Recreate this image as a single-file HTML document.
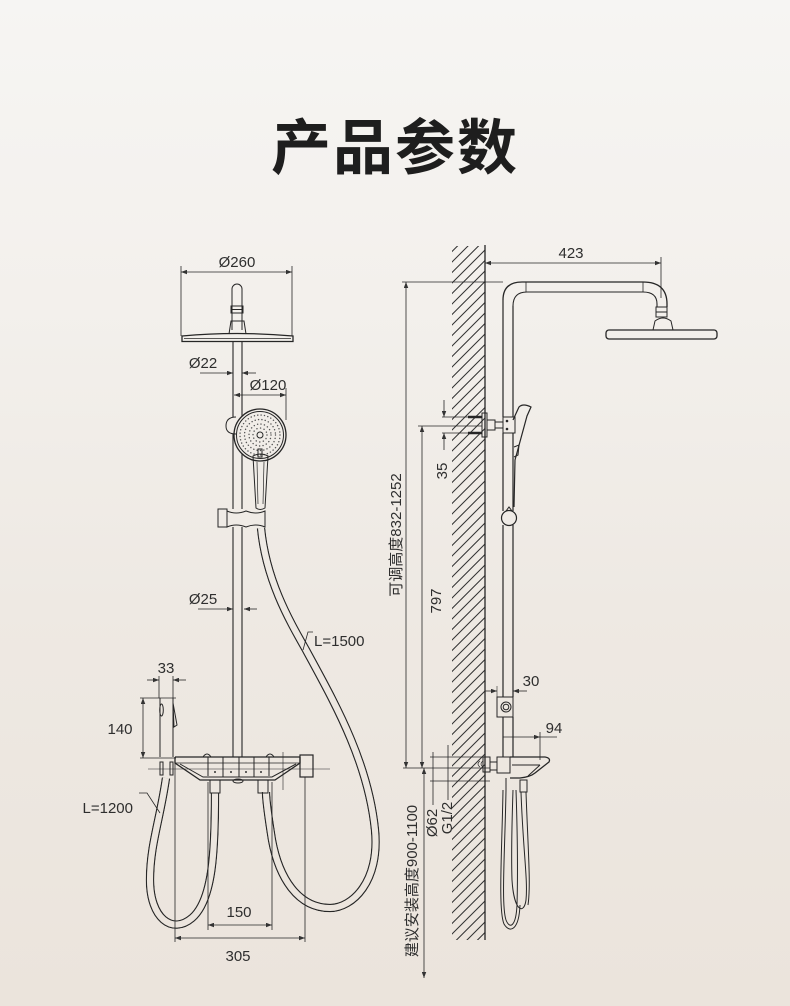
<!DOCTYPE html>
<html><head><meta charset="utf-8">
<style>
html,body{margin:0;padding:0;}
body{width:790px;height:1006px;overflow:hidden;position:relative;
background:linear-gradient(to bottom,#f6f5f3 0%,#f3f0ec 30%,#eee9e3 60%,#ebe4dc 100%);}
.title{position:absolute;left:0;top:117px;width:790px;text-align:center;font-family:"Liberation Sans","Noto Sans CJK SC",sans-serif;font-weight:bold;font-size:60px;line-height:64px;color:#1e1e1e;letter-spacing:2px;}
svg{position:absolute;left:0;top:0;}
svg text{font-family:"Liberation Sans","Noto Sans CJK SC",sans-serif;font-size:15px;fill:#2e2e2e;}
</style></head><body>
<div class="title">产品参数</div>
<svg width="790" height="1006" viewBox="0 0 790 1006">
<defs>
<marker id="ar" viewBox="0 0 8 6" refX="8" refY="3" markerWidth="7" markerHeight="4.5" orient="auto-start-reverse" markerUnits="userSpaceOnUse"><path d="M0,0L8,3L0,6Z" fill="#333"/></marker>
<pattern id="hatch" patternUnits="userSpaceOnUse" width="10.5" height="10.5"><path d="M-1,11.5 L11.5,-1 M-1,1 L1,-1 M9.5,11.5 L11.5,9.5" stroke="#333" stroke-width="1.05"/></pattern>
<mask id="hm" maskUnits="userSpaceOnUse" x="0" y="0" width="790" height="1006">
<g fill="none" stroke="white" stroke-width="8.5">
<path d="M261,528 C266,580 289,620 306,650 C333,700 368,760 375,830 C380,882 352,908 330,908 C298,908 279,878 272,840 C268,815 266,800 266,792"/>
<path d="M215,793 C215,850 213,900 192,918 C172,935 150,918 150,880 C150,845 160,820 166,778"/>
</g>
<g fill="none" stroke="black" stroke-width="6.1">
<path d="M261,528 C266,580 289,620 306,650 C333,700 368,760 375,830 C380,882 352,908 330,908 C298,908 279,878 272,840 C268,815 266,800 266,792"/>
<path d="M215,793 C215,850 213,900 192,918 C172,935 150,918 150,880 C150,845 160,820 166,778"/>
</g>
</mask>
</defs>

<!-- ================= LEFT DIAGRAM ================= -->
<g fill="none" stroke="#262626" stroke-width="1">
<!-- Ø260 dim -->
<line x1="181" y1="266" x2="181" y2="336" stroke-width="0.8"/>
<line x1="292" y1="266" x2="292" y2="336" stroke-width="0.8"/>
<line x1="181" y1="272" x2="292" y2="272" stroke-width="0.8" marker-start="url(#ar)" marker-end="url(#ar)"/>
<!-- shower head front -->
<path d="M232,330 V289 A5,5 0 0 1 242,289 V330"/>
<rect x="231" y="306" width="12" height="7"/>
<line x1="231" y1="309.5" x2="243" y2="309.5"/>
<path d="M229,334 L231,321 H244 L246,334"/>
<path d="M182,336 Q237,331 293,336 V341.5 H182 Z" stroke-width="1.3"/>
<line x1="184" y1="338.5" x2="291" y2="338.5" stroke-width="0.7"/>
<!-- column -->
<path d="M233,341.5 V417 M233,434 V509 M233,527 V757" stroke-width="1.1"/>
<path d="M242,341.5 V416 M242,454 V509 M242,527 V757" stroke-width="1.1"/>
<!-- Ø22 -->
<line x1="200" y1="373" x2="233" y2="373" stroke-width="0.8" marker-end="url(#ar)"/>
<line x1="256" y1="373" x2="242" y2="373" stroke-width="0.8" marker-end="url(#ar)"/>
<!-- Ø120 -->
<line x1="234" y1="395" x2="286" y2="395" stroke-width="0.8" marker-start="url(#ar)" marker-end="url(#ar)"/>
<line x1="286" y1="388" x2="286" y2="420" stroke-width="0.8"/>
<!-- hand shower front -->
<path d="M236,417 Q226,417 226,426 Q226,434 236,434"/>
<circle cx="260" cy="435" r="26" stroke-width="1.3"/>
<circle cx="260" cy="435" r="23.5"/>
<g stroke="#555" stroke-linecap="round" stroke-width="1.4">
<circle cx="260" cy="435" r="20" stroke-dasharray="0.1 3.3"/>
<circle cx="260" cy="435" r="15.5" stroke-dasharray="0.1 3.3"/>
<circle cx="260" cy="435" r="11" stroke-dasharray="0.1 3.4"/>
<circle cx="260" cy="435" r="7" stroke-dasharray="0.1 3.6"/>
</g>
<circle cx="260" cy="435" r="3"/>
<path d="M253,456 Q260,452 268,456 L265,508 Q260,511 256,508 Z"/>
<path d="M257,462 L258,504 M264,462 L263,504" stroke-width="0.7"/>
<rect x="258" y="449" width="4" height="8"/>
<!-- slider -->
<rect x="218" y="509" width="9" height="18"/>
<path d="M227,511 Q236,515 246,511 Q256,515 265,511 V527 Q256,523 246,527 Q236,523 227,527 Z"/>
<!-- Ø25 -->
<line x1="198" y1="609" x2="233" y2="609" stroke-width="0.8" marker-end="url(#ar)"/>
<line x1="257" y1="609" x2="244" y2="609" stroke-width="0.8" marker-end="url(#ar)"/>
<!-- L=1500 leader -->
<path d="M303,650 L308,632 H313" stroke-width="0.8"/>
<!-- 33 dim -->
<line x1="147" y1="680" x2="159" y2="680" stroke-width="0.8" marker-end="url(#ar)"/>
<line x1="186" y1="680" x2="173" y2="680" stroke-width="0.8" marker-end="url(#ar)"/>
<line x1="159" y1="676" x2="159" y2="698" stroke-width="0.8"/>
<line x1="173" y1="676" x2="173" y2="698" stroke-width="0.8"/>
<!-- 140 dim -->
<line x1="143" y1="698" x2="143" y2="758" stroke-width="0.8" marker-start="url(#ar)" marker-end="url(#ar)"/>
<line x1="140" y1="698" x2="176" y2="698" stroke-width="0.8"/>
<line x1="140" y1="758" x2="176" y2="758" stroke-width="0.8"/>
<!-- sprayer -->
<line x1="160" y1="698" x2="160" y2="757"/>
<line x1="173" y1="698" x2="173" y2="757"/>
<ellipse cx="161.5" cy="710" rx="1.8" ry="6"/>
<path d="M173,703 L177,725 L174,727 Z"/>
<rect x="160" y="762" width="3" height="13"/>
<rect x="170" y="762" width="3" height="13"/>
<!-- mixer front -->
<line x1="148" y1="769" x2="330" y2="769" stroke-width="0.6"/>
<line x1="283" y1="752" x2="283" y2="790" stroke-width="0.6"/>
<path d="M175,757 H300 M175,757 V763 L200,780 H275 L300,763 V757" stroke-width="1.3"/>
<path d="M180,764 L203,777 H272 L296,764"/>
<line x1="175" y1="763" x2="300" y2="763" stroke-width="0.8"/>
<rect x="300" y="755" width="13" height="22" stroke-width="1.2"/>
<path d="M208,757 V776 M223,757 V777 M239,757 V777 M254,757 V777 M269,757 V776"/>
<path d="M203,757 Q207,751 211,757 M266,757 Q270,751 274,757"/>
<ellipse cx="238" cy="781" rx="5" ry="2"/>
<rect x="210" y="780" width="10" height="13"/>
<rect x="258" y="780" width="10" height="13"/>
<g fill="#333" stroke="none">
<circle cx="215" cy="772" r="1"/><circle cx="231" cy="772" r="1"/><circle cx="246" cy="772" r="1"/><circle cx="261" cy="772" r="1"/>
</g>
<!-- 150 / 305 dims -->
<line x1="208" y1="782" x2="208" y2="930" stroke-width="0.8"/>
<line x1="272" y1="782" x2="272" y2="930" stroke-width="0.8"/>
<line x1="208" y1="925" x2="272" y2="925" stroke-width="0.8" marker-start="url(#ar)" marker-end="url(#ar)"/>
<line x1="175" y1="760" x2="175" y2="942" stroke-width="0.8"/>
<line x1="305" y1="777" x2="305" y2="942" stroke-width="0.8"/>
<line x1="175" y1="938" x2="305" y2="938" stroke-width="0.8" marker-start="url(#ar)" marker-end="url(#ar)"/>
<!-- L=1200 leader -->
<path d="M139,793 H147 L160,813" stroke-width="0.8"/>
</g>
<!-- hoses -->
<g fill="none" stroke="#262626" stroke-width="8.5" mask="url(#hm)">
<path d="M261,528 C266,580 289,620 306,650 C333,700 368,760 375,830 C380,882 352,908 330,908 C298,908 279,878 272,840 C268,815 266,800 266,792"/>
<path d="M215,793 C215,850 213,900 192,918 C172,935 150,918 150,880 C150,845 160,820 166,778"/>
</g>

<text x="237" y="267" text-anchor="middle">Ø260</text>
<text x="203" y="368" text-anchor="middle">Ø22</text>
<text x="268" y="390" text-anchor="middle">Ø120</text>
<text x="203" y="604" text-anchor="middle">Ø25</text>
<text x="314" y="646">L=1500</text>
<text x="166" y="673" text-anchor="middle">33</text>
<text x="120" y="734" text-anchor="middle">140</text>
<text x="133" y="813" text-anchor="end">L=1200</text>
<text x="239" y="917" text-anchor="middle">150</text>
<text x="238" y="961" text-anchor="middle">305</text>

<!-- ================= RIGHT DIAGRAM ================= -->
<rect x="452" y="246" width="33" height="694" fill="url(#hatch)"/>
<g fill="none" stroke="#262626" stroke-width="1">
<line x1="485" y1="245" x2="485" y2="940" stroke-width="1.3"/>
<!-- 423 -->
<line x1="485" y1="263" x2="661" y2="263" stroke-width="0.8" marker-start="url(#ar)" marker-end="url(#ar)"/>
<line x1="661" y1="257" x2="661" y2="298" stroke-width="0.8"/>
<!-- arm -->
<path d="M503,300 Q503,282 522,282 H643 Q667,282 667,304 V307" stroke-width="1.3"/>
<path d="M513,306 Q513,292 527,292 H643 Q657,292 657,304 V307" stroke-width="1.1"/>
<path d="M526,282 V292 M643,282 V292" stroke-width="0.8"/>
<rect x="656" y="307" width="11" height="10"/>
<line x1="656" y1="312" x2="667" y2="312"/>
<path d="M653,330 L655,321 Q663,315 671,321 L673,330"/>
<rect x="606" y="330" width="111" height="9" rx="3" stroke-width="1.3"/>
<!-- pipe -->
<path d="M503,300 V417 M503,433 V511 M503,525 V697 M503,717 V757" stroke-width="1.2"/>
<path d="M513,306 V417 M513,433 V511 M513,525 V697 M513,717 V757" stroke-width="1.2"/>
<!-- wall mount -->
<rect x="482" y="413" width="5" height="24"/>
<rect x="487" y="420" width="8" height="10"/>
<rect x="495" y="422" width="8" height="6"/>
<rect x="503" y="417" width="12" height="16"/>
<circle cx="507" cy="421" r="0.8" fill="#333"/><circle cx="507" cy="429" r="0.8" fill="#333"/>
<line x1="442" y1="417" x2="482" y2="417" stroke-width="0.8"/>
<line x1="442" y1="433" x2="482" y2="433" stroke-width="0.8"/>
<line x1="418" y1="426" x2="482" y2="426" stroke-width="0.8"/>
<line x1="468" y1="417" x2="482" y2="417" stroke-width="2.5"/>
<line x1="468" y1="433" x2="482" y2="433" stroke-width="2.5"/>
<!-- 35 -->
<line x1="444" y1="400" x2="444" y2="417" stroke-width="0.8" marker-end="url(#ar)"/>
<line x1="444" y1="450" x2="444" y2="433" stroke-width="0.8" marker-end="url(#ar)"/>
<!-- hand shower side -->
<path d="M513,420 L519,407 Q523,403 531,407 L527,416 L515,460 L514,507" stroke-width="1.2"/>
<path d="M514,447 L519,445 L518,455 L514,457"/>
<circle cx="509" cy="518" r="7.5" stroke-width="1.2"/>
<path d="M506,511 L509,507 L512,511"/>
<!-- 832-1252 -->
<line x1="402" y1="282" x2="503" y2="282" stroke-width="0.8"/>
<line x1="406" y1="282" x2="406" y2="768" stroke-width="0.8" marker-start="url(#ar)" marker-end="url(#ar)"/>
<!-- 797 -->
<line x1="422" y1="426" x2="422" y2="768" stroke-width="0.8" marker-start="url(#ar)" marker-end="url(#ar)"/>
<line x1="403" y1="768" x2="490" y2="768" stroke-width="0.8"/>
<!-- 30 holder -->
<rect x="497" y="697" width="16" height="20"/>
<circle cx="506" cy="707" r="5"/>
<circle cx="506" cy="707" r="2.8"/>
<line x1="485" y1="691" x2="497" y2="691" stroke-width="0.8" marker-end="url(#ar)"/>
<line x1="527" y1="691" x2="513" y2="691" stroke-width="0.8" marker-end="url(#ar)"/>
<line x1="497" y1="686" x2="497" y2="697" stroke-width="0.6"/>
<line x1="513" y1="686" x2="513" y2="697" stroke-width="0.6"/>
<!-- 94 -->
<line x1="503" y1="737" x2="540" y2="737" stroke-width="0.8" marker-end="url(#ar)"/>
<line x1="540" y1="737" x2="557" y2="737" stroke-width="0.8"/>
<line x1="540" y1="732" x2="540" y2="760" stroke-width="0.8"/>
<!-- mixer side -->
<rect x="483" y="757" width="7" height="15"/>
<rect x="490" y="762" width="7" height="8"/>
<rect x="497" y="757" width="13" height="16"/>
<path d="M510,757 H545 Q551,758 549,762 L535,773 Q530,777 520,778 H510" stroke-width="1.3"/>
<path d="M512,765 H540 M540,765 L528,776"/>
<path d="M480,761 Q476,764 480,767 M483,761 Q479,764 483,767" stroke-width="0.7"/>
<!-- Ø62 / G1/2 ext -->
<line x1="430" y1="757" x2="483" y2="757" stroke-width="0.8"/>
<line x1="430" y1="781" x2="490" y2="781" stroke-width="0.8"/>
<line x1="433" y1="752" x2="433" y2="805" stroke-width="0.8"/>
<line x1="448" y1="745" x2="448" y2="800" stroke-width="0.8"/>
<!-- 900-1100 -->
<line x1="424" y1="768" x2="424" y2="978" stroke-width="0.8" marker-start="url(#ar)" marker-end="url(#ar)"/>
<!-- hoses right -->
<path d="M506,778 V790 C505,850 501,905 506,920 C510,930 516,926 517,905 C518,870 517,820 516,790"/>
<path d="M503,790 C502,850 498,910 504,924 C510,934 519,930 520,905"/>
<path d="M520,780 H527 V792 H520 Z"/>
<path d="M521,792 C523,850 528,880 526,900 C524,915 514,912 512,880 C511,850 512,820 513,790"/>
<path d="M526,792 C528,850 531,885 528,905"/>
</g>

<text x="571" y="258" text-anchor="middle">423</text>
<text x="531" y="686" text-anchor="middle">30</text>
<text x="554" y="733" text-anchor="middle">94</text>
<text transform="translate(401,535) rotate(-90)" text-anchor="middle">可调高度832-1252</text>
<text transform="translate(441,601) rotate(-90)" text-anchor="middle">797</text>
<text transform="translate(447,471) rotate(-90)" text-anchor="middle">35</text>
<text transform="translate(437,823) rotate(-90)" text-anchor="middle">Ø62</text>
<text transform="translate(452,818) rotate(-90)" text-anchor="middle">G1/2</text>
<text transform="translate(417,881) rotate(-90)" text-anchor="middle">建议安装高度900-1100</text>
</svg>
</body></html>
